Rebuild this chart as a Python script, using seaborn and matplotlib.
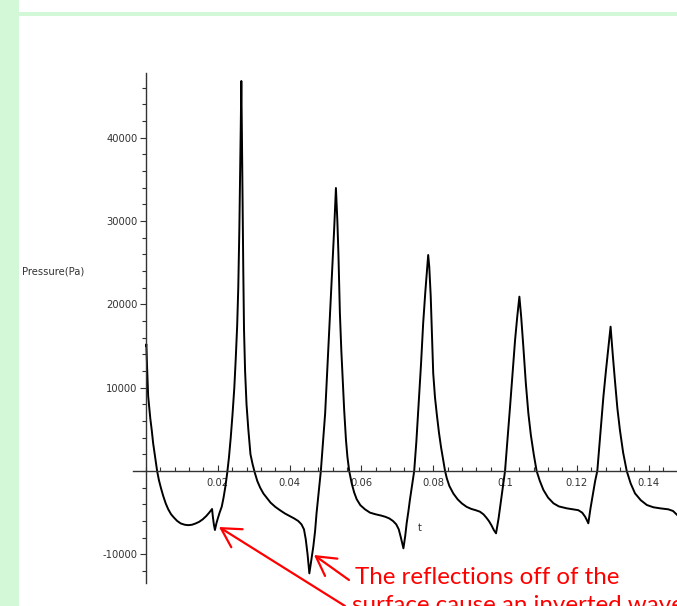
import matplotlib
matplotlib.use("Agg")
import matplotlib.pyplot as plt
import seaborn as sns
import pandas as pd
from matplotlib.ticker import MultipleLocator, FixedLocator
from matplotlib.patches import Rectangle

# ---- data ----
t_values = [0.0000, 0.0001, 0.0003, 0.0006, 0.0009, 0.0012, 0.0016, 0.0020, 0.0025, 0.0031,
            0.0036, 0.0042, 0.0048, 0.0055, 0.0062, 0.0070, 0.0078, 0.0087, 0.0097, 0.0108,
            0.0118, 0.0128, 0.0138, 0.0148, 0.0158, 0.0168, 0.0176, 0.0184, 0.0186, 0.0189,
            0.0192, 0.0196, 0.0200, 0.0205, 0.0211, 0.0216, 0.0221, 0.0226, 0.0231, 0.0236,
            0.0241, 0.0246, 0.0250, 0.0254, 0.0257, 0.0260, 0.0262, 0.0264, 0.02655, 0.0267,
            0.0269, 0.0271, 0.0273, 0.0276, 0.0280, 0.0285, 0.0291, 0.0297, 0.0303, 0.0310,
            0.0318, 0.0327, 0.0336, 0.0347, 0.0360, 0.0373, 0.0387, 0.0400, 0.0413, 0.0424,
            0.0433, 0.0440, 0.0445, 0.0450, 0.0455, 0.0460, 0.0466, 0.0471, 0.0475, 0.0481,
            0.0487, 0.0493, 0.0499, 0.0508, 0.0517, 0.0524, 0.0529, 0.0533, 0.0536, 0.0540,
            0.0544, 0.0548, 0.0552, 0.0557, 0.0561, 0.0566, 0.0573, 0.0580, 0.0587, 0.0597,
            0.0610, 0.0624, 0.0640, 0.0655, 0.0667, 0.0678, 0.0688, 0.0697, 0.0704, 0.0710,
            0.0717, 0.0722, 0.0726, 0.0731, 0.0735, 0.0741, 0.0747, 0.0753, 0.0759, 0.0766,
            0.0772, 0.0778, 0.0782, 0.0786, 0.0789, 0.0793, 0.0797, 0.0800, 0.0805, 0.0810,
            0.0816, 0.0822, 0.0828, 0.0833, 0.0838, 0.0845, 0.0856, 0.0868, 0.0880, 0.0893,
            0.0906, 0.0918, 0.0930, 0.0940, 0.0948, 0.0955, 0.0962, 0.0969, 0.0975, 0.0982,
            0.0988, 0.0994, 0.1000, 0.1007, 0.1014, 0.1021, 0.1028, 0.1034, 0.1040, 0.1045,
            0.1051, 0.1058, 0.1065, 0.1072, 0.1080, 0.1088, 0.1097, 0.1107, 0.1120, 0.1135,
            0.1150, 0.1172, 0.1190, 0.1204, 0.1215, 0.1223, 0.1228, 0.1232, 0.1238, 0.1245,
            0.1251, 0.1257, 0.1265, 0.1274, 0.1281, 0.1288, 0.1294, 0.1300, 0.1306, 0.1313,
            0.1320, 0.1329, 0.1339, 0.1350, 0.1362, 0.1378, 0.1395, 0.1413, 0.1432, 0.1455,
            0.1468, 0.1480]
pressure_values = [15000, 15200, 12500, 9000, 7600, 6300, 4900, 3300, 1800, 0,
                   -1100, -2100, -3000, -3900, -4600, -5200, -5600, -6000, -6300, -6450,
                   -6500, -6450, -6300, -6100, -5800, -5400, -5000, -4560, -5400, -6400,
                   -7080, -6300, -5700, -5000, -4280, -3200, -1900, -300, 1600, 4000,
                   6800, 10000, 13500, 17500, 22000, 29000, 35000, 41500, 46800, 41000,
                   32000, 24000, 17000, 12000, 8000, 5000, 2000, 800, -200, -1200,
                   -2000, -2700, -3200, -3800, -4300, -4700, -5100, -5400, -5700, -6000,
                   -6400, -7000, -8200, -10000, -12280, -10800, -9080, -7200, -5080, -2600,
                   0, 3400, 6920, 14920, 22920, 28920, 33960, 30000, 26000, 19000,
                   14500, 10920, 7300, 3720, 1700, 0, -1500, -2600, -3400, -4100,
                   -4600, -5000, -5200, -5350, -5500, -5700, -6000, -6400, -7000, -8000,
                   -9280, -7800, -6280, -4800, -3480, -1700, 0, 3500, 7720, 12800,
                   17720, 21500, 23720, 25920, 24500, 21000, 15500, 11720, 8800, 6800,
                   4600, 2800, 1300, 0, -900, -1800, -2700, -3400, -3900, -4300,
                   -4550, -4700, -4880, -5200, -5600, -6000, -6500, -7100, -7480, -5700,
                   -3800, -1900, 0, 3800, 7720, 11700, 15720, 18500, 20920, 18500,
                   14920, 10500, 6920, 4300, 2000, 0, -1200, -2280, -3200, -3880,
                   -4250, -4480, -4600, -4700, -5000, -5480, -5900, -6280, -4500, -2700,
                   -1200, 0, 4200, 8920, 12000, 14920, 17320, 14000, 10920, 7500,
                   4920, 2200, 0, -1500, -2680, -3500, -4080, -4350, -4480, -4600,
                   -4800, -5300]

x_major_ticks = [0.02, 0.04, 0.06, 0.08, 0.10, 0.12, 0.14]
x_tick_labels = ["0.02", "0.04", "0.06", "0.08", "0.1", "0.12", "0.14"]
y_major_ticks = [-10000, 10000, 20000, 30000, 40000]
y_tick_labels = ["-10000", "10000", "20000", "30000", "40000"]

y_axis_title = "Pressure(Pa)"
x_axis_title = "t"
note_line1 = "The reflections off of the"
note_line2 = "surface cause an inverted wave"

df = pd.DataFrame({"t": t_values, "p": pressure_values})

sns.set_theme(style="white")
plt.rcParams["font.family"] = ["DejaVu Sans"]
plt.rcParams["font.stretch"] = "condensed"

W, H = 677, 606
fig = plt.figure(figsize=(W / 100, H / 100), dpi=100)
fig.patch.set_facecolor("white")

green = "#d3f8d8"
fig.add_artist(Rectangle((0, 0), 19 / W, 1, transform=fig.transFigure,
                         facecolor=green, edgecolor="none", zorder=0))
fig.add_artist(Rectangle((19 / W, (H - 16) / H), 1, 4 / H, transform=fig.transFigure,
                         facecolor=green, edgecolor="none", zorder=0))

ax = fig.add_axes([133 / W, (H - 583) / H, (677 - 133) / W, (583 - 73) / H])
ax.set_facecolor("none")

sns.lineplot(data=df, x="t", y="p", ax=ax, color="black", linewidth=1.4,
             sort=False, estimator=None)

ax.set_xlim(-0.00362, 0.1479)
ax.set_ylim(-13440, 47760)

for side in ["top", "right"]:
    ax.spines[side].set_visible(False)
ax.spines["left"].set_position(("data", 0))
ax.spines["bottom"].set_position(("data", 0))
for side in ["left", "bottom"]:
    ax.spines[side].set_color("#333333")
    ax.spines[side].set_linewidth(1.0)

ax.xaxis.set_major_locator(FixedLocator(x_major_ticks))
ax.set_xticklabels(x_tick_labels)
ax.xaxis.set_minor_locator(MultipleLocator(0.004))
ax.yaxis.set_major_locator(FixedLocator(y_major_ticks))
ax.set_yticklabels(y_tick_labels)
ax.yaxis.set_minor_locator(MultipleLocator(2000))

lab_font = dict(family="DejaVu Sans", stretch="condensed", size=8)
ax.tick_params(axis="x", which="major", direction="in", length=4, width=0.8,
               color="#333333", labelsize=8, labelcolor="#333333", pad=5, bottom=True)
ax.tick_params(axis="x", which="minor", direction="in", length=3, width=0.8,
               color="#333333", bottom=True)
ax.tick_params(axis="y", which="major", direction="out", length=4, width=0.8,
               color="#333333", labelsize=8, labelcolor="#333333", pad=2, left=True)
ax.tick_params(axis="y", which="minor", direction="out", length=3, width=0.8,
               color="#333333", left=True)
for lab in ax.get_xticklabels() + ax.get_yticklabels():
    lab.set_fontstretch("condensed")
ax.set_xlabel("")
ax.set_ylabel("")

fig.text(22 / W, 1 - 271 / H, y_axis_title, color="#333333",
         ha="left", va="center", fontdict=lab_font)
fig.text(420 / W, 1 - 528 / H, x_axis_title, color="#333333",
         ha="center", va="center", fontdict=lab_font)

# annotation arrows and text
def fp(x, y):
    return (x / W, 1 - y / H)

arrow_style = "->,head_length=0.8,head_width=0.45"
ax.annotate("", xy=fp(219, 527), xycoords="figure fraction",
            xytext=fp(345, 606), textcoords="figure fraction",
            arrowprops=dict(arrowstyle=arrow_style, color="red", lw=1.6,
                            mutation_scale=17, shrinkA=0, shrinkB=0),
            annotation_clip=False)
ax.annotate("", xy=fp(314, 555), xycoords="figure fraction",
            xytext=fp(349, 580), textcoords="figure fraction",
            arrowprops=dict(arrowstyle=arrow_style, color="red", lw=1.6,
                            mutation_scale=17, shrinkA=0, shrinkB=0),
            annotation_clip=False)

fig.text(355 / W, 1 - 577 / H, note_line1, fontsize=17.4, color="red",
         family=["Lato", "DejaVu Sans"], ha="left", va="center")
fig.text(352 / W, 1 - 606 / H, note_line2, fontsize=17.4, color="red",
         family=["Lato", "DejaVu Sans"], ha="left", va="center")

fig.savefig("out.png", dpi=100)
